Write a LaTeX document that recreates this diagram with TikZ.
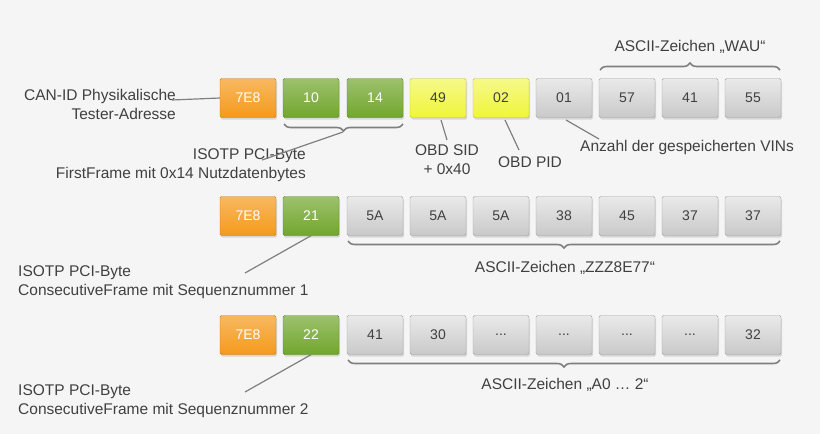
\documentclass[tikz,border=0pt]{standalone}
\usepackage{fontspec}
\setmainfont{Liberation Sans}
\usetikzlibrary{decorations.pathreplacing,shadows}
\definecolor{org}{HTML}{F59A1C}
\definecolor{grn}{HTML}{72A62E}
\definecolor{yel}{HTML}{F0F53A}
\definecolor{gry}{HTML}{C9C9C9}
\definecolor{ln}{HTML}{7F7F7F}
\tikzset{
 box/.style={minimum width=56pt,minimum height=39pt,inner sep=0pt,rounded corners=1.5pt,font=\fontsize{14}{14}\selectfont,drop shadow={shadow xshift=1pt,shadow yshift=-2pt,opacity=0.25}},
 bo/.style={box,top color=org!70!white,bottom color=org,draw=org!80!black,text=white},
 bg/.style={box,top color=grn!70!white,bottom color=grn,draw=grn!80!black,text=white},
 byl/.style={box,top color=yel!60!white,bottom color=yel,draw=yel!80!black,text=black!75},
 bk/.style={box,top color=gry!40!white,bottom color=gry,draw=gry!80!black,text=black!75},
 lbl/.style={font=\fontsize{15.5}{19}\selectfont,text=black!75,inner sep=0pt},
 br/.style={draw=ln,line width=1.6pt,decorate,decoration={brace,amplitude=7pt}},
 cn/.style={draw=ln,line width=1.2pt}
}
\begin{document}
\begin{tikzpicture}[x=1pt,y=-1pt]
\fill[white!96!black] (0,0) rectangle (820,434);
\useasboundingbox (0,0) rectangle (820,434);
\node[bo] (a0) at (248,98) {7E8};
\node[bg] (a1) at (311,98) {10};
\node[bg] (a2) at (375,98) {14};
\node[byl] (a3) at (438,98) {49};
\node[byl] (a4) at (501,98) {02};
\node[bk] (a5) at (564,98) {01};
\node[bk] (a6) at (627,98) {57};
\node[bk] (a7) at (690,98) {41};
\node[bk] (a8) at (753,98) {55};
\node[bo] (b0) at (248,216) {7E8};
\node[bg] (b1) at (311,216) {21};
\node[bk] (b2) at (375,216) {5A};
\node[bk] (b3) at (438,216) {5A};
\node[bk] (b4) at (501,216) {5A};
\node[bk] (b5) at (564,216) {38};
\node[bk] (b6) at (627,216) {45};
\node[bk] (b7) at (690,216) {37};
\node[bk] (b8) at (753,216) {37};
\node[bo] (c0) at (248,335) {7E8};
\node[bg] (c1) at (311,335) {22};
\node[bk] (c2) at (375,335) {41};
\node[bk] (c3) at (438,335) {30};
\node[bk] (c4) at (501,335) {...};
\node[bk] (c5) at (564,335) {...};
\node[bk] (c6) at (627,335) {...};
\node[bk] (c7) at (690,335) {...};
\node[bk] (c8) at (753,335) {32};
% braces
\draw[br] (600,70) -- (780,70);
\node[lbl] (tl) at (690,47) {ASCII-Zeichen „WAU“};
\draw[br] (403,124) -- (284,124);
\coordinate (bt) at (343,132);
\draw[br] (780,241) -- (348,241);
\node[lbl] (l2) at (565,268) {ASCII-Zeichen „ZZZ8E77“};
\draw[br] (780,360) -- (348,360);
\node[lbl] (l3) at (565,385) {ASCII-Zeichen „A0 … 2“};
% labels
\node[lbl,align=right,anchor=east] (can) at (176,104) {CAN-ID Physikalische\\Tester-Adresse};
\coordinate (canE) at (172,100);
\draw[cn] (canE) -- (a0.west);
\node[lbl,align=right,anchor=north east] (isA) at (306,148) {ISOTP PCI-Byte\\FirstFrame mit 0x14 Nutzdatenbytes};
\coordinate (isAp) at (262,160);
\draw[cn] (isAp) -- (bt);
\node[lbl,align=center] (sid) at (447,160) {OBD SID\\+ 0x40};
\draw[cn] (441,120) -- (447,140);
\node[lbl] (pid) at (530,162) {OBD PID};
\draw[cn] (505,120) -- (519,150);
\node[lbl,anchor=west] (anz) at (580,147) {Anzahl der gespeicherten VINs};
\draw[cn] (566,120) -- (599,139);
\node[lbl,align=left,anchor=north west] (isB) at (18,265) {ISOTP PCI-Byte\\ConsecutiveFrame mit Sequenznummer 1};
\draw[cn] (b1.south) -- (245,273);
\node[lbl,align=left,anchor=north west] (isC) at (18,384) {ISOTP PCI-Byte\\ConsecutiveFrame mit Sequenznummer 2};
\draw[cn] (c1.south) -- (245,392);
\end{tikzpicture}
\end{document}
